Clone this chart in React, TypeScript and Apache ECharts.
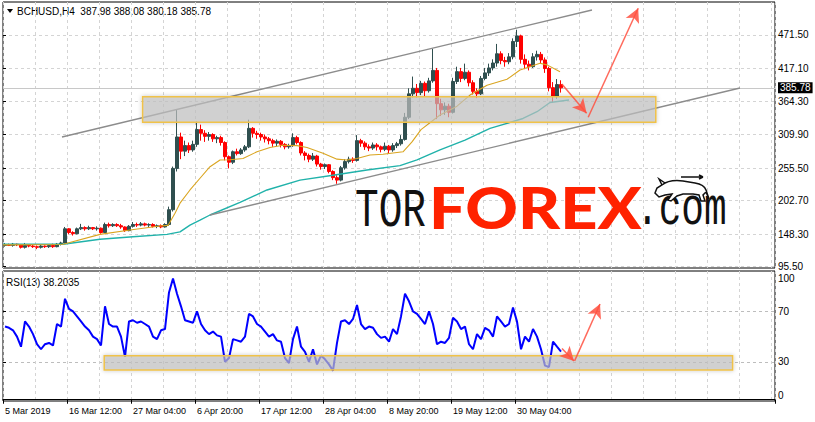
import React, { useEffect, useRef } from "react";
import * as echarts from "echarts";

// ---------- texts ----------
const symbolName = "BCHUSD,H4";
const lastBar = [387.98, 388.08, 380.18, 385.78];
const rsiLabel = "RSI(13) 38.2035";
const lastPrice = 385.78;

// ---------- axes ----------
const timeLabels = [
  "5 Mar 2019",
  "16 Mar 12:00",
  "27 Mar 04:00",
  "6 Apr 20:00",
  "17 Apr 12:00",
  "28 Apr 04:00",
  "8 May 20:00",
  "19 May 12:00",
  "30 May 04:00",
];
const labelEvery = 16; // slots between time labels
const gridEvery = 8; // slots between vertical grid lines
const slotCount = 193; // each slot = 4 H4 bars
const priceTicks = [95.5, 148.3, 202.7, 255.5, 309.9, 364.3, 417.1, 471.5];
const priceMin = 93.4;
const priceMax = 525;
const rsiTicks = [0, 30, 70, 100];
const rsiLevels = [30, 70];
const rsiMin = -1;
const rsiMax = 102;

// ---------- candles: [open, close, low, high] ----------
const candles: number[][] = [
  [130, 131, 128, 134], [131, 130, 129, 133], [130, 132, 128, 134], [132, 131, 129, 133],
  [131, 127, 125, 132], [127, 130, 125, 134], [130, 129, 127, 132], [129, 128, 126, 131],
  [128, 127, 124, 130], [127, 129, 125, 131], [129, 128, 126, 130], [128, 130, 126, 132],
  [130, 128, 126, 133], [128, 132, 127, 134], [132, 134, 130, 136], [134, 157, 133, 160],
  [157, 151, 148, 158], [151, 149, 146, 153], [149, 157, 148, 159], [157, 159, 155, 165],
  [159, 157, 154, 161], [157, 159, 155, 162], [159, 157, 155, 160], [157, 158, 154, 161],
  [158, 151, 149, 159], [151, 164, 150, 167], [164, 162, 159, 167], [162, 164, 160, 166],
  [164, 162, 160, 166], [162, 160, 157, 165], [160, 154, 152, 161], [154, 161, 153, 163],
  [161, 164, 159, 168], [164, 163, 160, 167], [163, 165, 161, 168], [165, 163, 161, 167],
  [163, 164, 160, 166], [164, 161, 159, 166], [161, 162, 158, 164], [162, 160, 158, 164],
  [160, 164, 159, 166], [164, 188, 162, 193], [188, 255, 185, 258], [255, 306, 250, 350],
  [306, 283, 270, 313], [283, 292, 275, 300], [292, 285, 280, 297], [285, 294, 282, 300],
  [294, 318, 290, 331], [318, 312, 300, 326], [312, 307, 298, 317], [307, 310, 300, 314],
  [310, 303, 298, 312], [303, 305, 296, 308], [305, 297, 292, 308], [297, 274, 268, 299],
  [274, 265, 255, 276], [265, 282, 262, 284], [282, 279, 276, 287], [279, 285, 277, 288],
  [285, 290, 282, 293], [290, 320, 288, 334], [320, 312, 305, 322], [312, 310, 303, 316],
  [310, 306, 300, 313], [306, 303, 297, 310], [303, 300, 294, 306], [300, 296, 290, 303],
  [296, 299, 291, 302], [299, 294, 289, 301], [294, 290, 286, 296], [290, 292, 287, 295],
  [292, 305, 290, 312], [305, 297, 294, 308], [297, 280, 276, 299], [280, 276, 268, 283],
  [276, 270, 265, 279], [270, 275, 267, 280], [275, 262, 258, 277], [262, 258, 253, 264],
  [258, 261, 254, 263], [261, 250, 247, 262], [250, 240, 236, 252], [240, 236, 230, 244],
  [236, 256, 234, 259], [256, 266, 253, 270], [266, 270, 263, 274], [270, 268, 264, 273],
  [268, 300, 266, 309], [300, 296, 290, 303], [296, 290, 285, 299], [290, 288, 283, 294],
  [288, 293, 285, 297], [293, 290, 284, 296], [290, 286, 281, 292], [286, 291, 283, 297],
  [291, 285, 280, 293], [285, 292, 282, 296], [292, 295, 288, 298], [295, 302, 292, 309],
  [302, 338, 300, 345], [338, 376, 335, 385], [376, 385, 370, 404], [385, 378, 370, 392],
  [378, 393, 374, 397], [393, 381, 372, 396], [381, 397, 378, 402], [397, 414, 394, 449],
  [414, 360, 335, 418], [360, 350, 340, 368], [350, 356, 342, 362], [356, 346, 338, 360],
  [346, 396, 344, 402], [396, 412, 392, 420], [412, 401, 395, 418], [401, 411, 398, 425],
  [411, 394, 388, 414], [394, 380, 375, 398], [380, 376, 369, 385], [376, 401, 374, 405],
  [401, 410, 398, 418], [410, 418, 405, 425], [418, 426, 414, 432], [426, 441, 420, 457],
  [441, 430, 424, 445], [430, 428, 420, 436], [428, 436, 424, 442], [436, 461, 432, 466],
  [461, 470, 452, 480], [470, 432, 425, 472], [432, 424, 416, 440], [424, 420, 414, 430],
  [420, 436, 418, 442], [436, 440, 430, 446], [440, 431, 426, 444], [431, 417, 410, 435],
  [417, 386, 380, 420], [386, 372, 362, 395], [372, 391, 368, 400], [391, 385.78, 378, 398],
];

// ---------- moving averages: [slot, price] ----------
const maFast: number[][] = [
  [0, 131], [14.75, 131.5], [16, 133.5], [24.25, 148], [31.75, 155], [39.25, 161.5],
  [41.25, 162.5], [43, 182.4], [44.25, 198.6], [46.75, 220], [49.25, 239], [51.75, 257.8],
  [54.25, 268.7], [56.75, 269], [60, 271], [63.5, 282], [66.75, 289], [70, 292.5],
  [73.5, 292], [76, 289], [80, 279.5], [83.5, 270], [86, 268.7], [88.5, 271],
  [91.75, 276.8], [95, 278], [100, 282], [102.25, 298], [104.5, 318], [109.25, 341.7],
  [113.5, 356], [116.75, 374], [121, 390], [126, 399.6], [129.25, 414.7], [134.25, 425.6],
  [136, 423], [139.25, 412],
];
const maSlow: number[][] = [
  [0, 132], [15, 132], [24.25, 140], [32.5, 144], [41, 148], [44.25, 152], [46.75, 163],
  [49.25, 171], [51.75, 179.4], [59.25, 200], [66, 220], [74.25, 236], [82.5, 244],
  [91, 252.4], [99.25, 259.5], [103.5, 268.7], [109.25, 285], [115.5, 301], [121.75, 320],
  [126, 328], [130, 336], [133.5, 347], [136.75, 362], [141.5, 366],
];

// ---------- RSI(13) per slot ----------
const rsi = [
  58, 57, 55, 50, 42, 62, 58, 52, 44, 40, 44, 45, 43, 60, 58, 80, 72, 70, 66, 62,
  58, 55, 50, 48, 43, 74, 60, 58, 58, 50, 34, 62, 63, 61, 62, 60, 58, 50, 48, 55,
  56, 85, 96, 84, 74, 63, 62, 61, 70, 60, 55, 52, 54, 51, 50, 30, 33, 48, 47, 46,
  50, 68, 66, 60, 58, 54, 50, 52, 47, 46, 33, 29, 48, 58, 42, 38, 30, 40, 28, 35,
  32, 28, 23, 45, 62, 63, 60, 64, 75, 60, 56, 58, 57, 52, 49, 50, 46, 56, 52, 66,
  84, 78, 70, 68, 64, 60, 70, 60, 44, 46, 45, 49, 65, 62, 56, 58, 44, 40, 52, 48,
  57, 55, 50, 66, 62, 58, 60, 73, 62, 40, 50, 46, 56, 50, 40, 27, 26, 46, 42, 38.2,
];

// ---------- drawn objects: [slot, value] ----------
const channelUpper = [[14.75, 306], [147.25, 512]];
const channelLower = [[51.75, 179.4], [184.25, 385.5]];
const zoneMain = [[34.9, 371.4], [163.2, 329.8]];
const zoneRsi = [[25.3, 34.9], [182.4, 23.6]];
const arrowsMain = [
  [[139.7, 392], [145.9, 344.4]],
  [[146.3, 337.9], [158.8, 514.8]],
];
const arrowsRsi = [
  [[139.75, 40.6], [142.75, 30.7]],
  [[142.9, 30.8], [149.25, 75.9]],
];

const bullPath =
  "M2 18 L4 13 L9 10 C14 6 22 5 30 6 L42 8 C48 9 52 12 53 15 L56 24 L53 17 L50 20 L52 26 L48 26 L46 20 L40 19 L30 19 L24 21 L18 26 L15 25 L19 19 L12 20 L6 22 Z M9 10 L6 4 L12 8 M28 2 L50 2 M50 2 L46 0 M50 2 L46 4";

let shapeRegistered = false;

const FONT = '"Liberation Sans", Arial, sans-serif';
const gridDash = { color: "#d4d4d4", type: [3, 3] as number[], width: 1 };
const arrowColor = "rgba(255,80,64,0.85)";

export default function App() {
  const ref = useRef<HTMLDivElement>(null);

  useEffect(() => {
    document.body.style.margin = "0";
    if (!shapeRegistered) {
      echarts.graphic.registerShape("bull", echarts.graphic.extendPath(bullPath, {}));
      shapeRegistered = true;
    }
    const chart = echarts.init(ref.current!, null, { renderer: "svg" });
    const cats = Array.from({ length: slotCount }, (_, i) => String(i));
    const isLabel = (i: number) => i % labelEvery === 0 && i / labelEvery < timeLabels.length;

    const option: any = {
      animation: false,
      backgroundColor: "#fff",
      textStyle: { fontFamily: FONT },
      grid: [
        { left: 3, right: 40, top: 2, height: 266, show: true, borderColor: "#000", borderWidth: 1, backgroundColor: "transparent" },
        { left: 3, right: 40, top: 271, height: 130, show: true, borderColor: "#000", borderWidth: 1, backgroundColor: "transparent" },
      ],
      xAxis: [
        {
          type: "category", gridIndex: 0, data: cats, boundaryGap: true,
          axisLine: { show: false }, axisTick: { show: false }, axisLabel: { show: false },
          splitLine: { show: true, interval: (i: number) => i % gridEvery === 0, lineStyle: gridDash },
        },
        {
          type: "category", gridIndex: 1, data: cats, boundaryGap: true,
          axisLine: { show: true, lineStyle: { color: "#000", width: 1 } },
          axisTick: { show: true, interval: (i: number) => isLabel(i), length: 4, lineStyle: { color: "#000" } },
          axisLabel: {
            show: true, interval: (i: number) => isLabel(i), align: "left", margin: 5,
            color: "#000", fontSize: 9, fontFamily: FONT,
            formatter: (_v: string, i: number) => timeLabels[i / labelEvery] ?? "",
          },
          splitLine: { show: true, interval: (i: number) => i % gridEvery === 0, lineStyle: gridDash },
        },
        { type: "value", gridIndex: 0, min: 0, max: slotCount, show: false },
        { type: "value", gridIndex: 1, min: 0, max: slotCount, show: false },
      ],
      yAxis: [
        {
          type: "value", gridIndex: 0, position: "right", min: priceMin, max: priceMax,
          axisLine: { show: false },
          axisTick: { show: true, customValues: priceTicks, length: 3, lineStyle: { color: "#000" } },
          axisLabel: { customValues: priceTicks, formatter: (v: number) => v.toFixed(2), color: "#000", fontSize: 10, margin: 3, fontFamily: FONT },
          splitLine: { show: true, lineStyle: gridDash },
        },
        {
          type: "value", gridIndex: 1, position: "right", min: rsiMin, max: rsiMax,
          axisLine: { show: false },
          axisTick: { show: true, customValues: rsiLevels, length: 3, lineStyle: { color: "#000" } },
          axisLabel: {
            customValues: rsiTicks, color: "#000", fontSize: 10, margin: 3, fontFamily: FONT,
            formatter: (v: number) => (v >= 100 ? `{top|${v}}` : v <= 0 ? `{bot|${v}}` : String(v)),
            rich: {
              top: { fontSize: 10, fontFamily: FONT, color: "#000", padding: [9, 0, 0, 0] },
              bot: { fontSize: 10, fontFamily: FONT, color: "#000", padding: [0, 0, 9, 0] },
            },
          },
          splitLine: { show: true, lineStyle: { color: "#bdbdbd", type: [3, 3] } },
        },
      ],
      series: [
        {
          type: "line", xAxisIndex: 2, yAxisIndex: 0, data: maSlow, showSymbol: false, silent: true,
          lineStyle: { color: "#20B2AA", width: 1.4 }, z: 3,
        },
        {
          type: "line", xAxisIndex: 2, yAxisIndex: 0, data: maFast, showSymbol: false, silent: true,
          lineStyle: { color: "#DAA520", width: 1.1 }, z: 3,
        },
        {
          type: "candlestick", xAxisIndex: 0, yAxisIndex: 0, data: candles, barWidth: 3, silent: true,
          itemStyle: { color: "#2F4F4F", color0: "#FF0000", borderColor: "#2F4F4F", borderColor0: "#FF0000", borderWidth: 1 },
          z: 2,
          markLine: {
            silent: true, symbol: ["none", "none"], z: 1,
            lineStyle: { color: "#c8c8c8", type: "solid", width: 1 },
            label: {
              show: true, position: "end", distance: 3, formatter: lastPrice.toFixed(2),
              backgroundColor: "#000", color: "#fff", fontSize: 10, padding: [1, 2, 0, 2], fontFamily: FONT,
            },
            data: [{ yAxis: lastPrice }],
          },
        },
        {
          type: "line", xAxisIndex: 2, yAxisIndex: 0, data: channelLower, showSymbol: false, silent: true,
          lineStyle: { color: "#8c8c8c", width: 1.4 }, z: 4,
        },
        {
          type: "line", xAxisIndex: 2, yAxisIndex: 0, data: channelUpper, showSymbol: false, silent: true,
          lineStyle: { color: "#8c8c8c", width: 1.4 }, z: 4,
          markArea: {
            silent: true, z: 6,
            itemStyle: { color: "rgba(196,196,196,0.65)", borderColor: "#F0C24A", borderWidth: 1.5, shadowBlur: 4, shadowColor: "rgba(0,0,0,0.25)" },
            data: [[{ coord: zoneMain[0] }, { coord: zoneMain[1] }]],
          },
          markLine: {
            silent: true, symbol: ["none", "arrow"], symbolSize: [11, 14], z: 7,
            lineStyle: { color: arrowColor, width: 1.5, type: "solid" },
            label: { show: false },
            data: arrowsMain.map((a) => [{ coord: a[0] }, { coord: a[1] }]),
          },
        },
        {
          type: "line", xAxisIndex: 1, yAxisIndex: 1, data: rsi, showSymbol: false, silent: true,
          lineStyle: { color: "#0000FF", width: 2 }, z: 3,
        },
        {
          type: "line", xAxisIndex: 3, yAxisIndex: 1, data: arrowsRsi[1], showSymbol: false, silent: true,
          lineStyle: { opacity: 0 }, z: 4,
          markArea: {
            silent: true, z: 6,
            itemStyle: { color: "rgba(196,196,196,0.65)", borderColor: "#F0C24A", borderWidth: 1.5, shadowBlur: 4, shadowColor: "rgba(0,0,0,0.25)" },
            data: [[{ coord: zoneRsi[0] }, { coord: zoneRsi[1] }]],
          },
          markLine: {
            silent: true, symbol: ["none", "arrow"], symbolSize: [11, 14], z: 7,
            lineStyle: { color: arrowColor, width: 1.5, type: "solid" },
            label: { show: false },
            data: arrowsRsi.map((a) => [{ coord: a[0] }, { coord: a[1] }]),
          },
        },
      ],
      graphic: [
        { type: "polygon", silent: true, shape: { points: [[7, 9], [13, 9], [10, 13]] }, style: { fill: "#000" } },
        {
          type: "text", silent: true, x: 17, y: 11,
          style: { text: `${symbolName}  ${lastBar.map((v) => v.toFixed(2)).join(" ")}`, fill: "#000", font: `10px ${FONT}`, verticalAlign: "middle" },
        },
        {
          type: "text", silent: true, x: 6, y: 282,
          style: { text: rsiLabel, fill: "#000", font: `10px ${FONT}`, verticalAlign: "middle" },
        },
        {
          type: "text", silent: true, x: 355, y: 212, scaleX: 0.73, z: 1,
          style: { text: "TOR", fill: "#111", font: '54px "Liberation Mono"', verticalAlign: "middle" },
        },
        {
          type: "text", silent: true, x: 429, y: 206, scaleX: 1.12, z: 1,
          style: { text: "FOREX", fill: "#FF2200", font: '900 58px Lato', verticalAlign: "middle" },
        },
        {
          type: "text", silent: true, x: 636, y: 210, scaleX: 0.7, z: 1,
          style: { text: ".com", fill: "#111", font: '54px "Liberation Mono"', verticalAlign: "middle" },
        },
        {
          type: "bull", silent: true, x: 653, y: 175, z: 1,
          style: { fill: "#fff", stroke: "#111", lineWidth: 1.5 },
        },
      ],
    };
    chart.setOption(option);
    return () => chart.dispose();
  }, []);

  return <div ref={ref} style={{ width: 815, height: 422 }} />;
}
